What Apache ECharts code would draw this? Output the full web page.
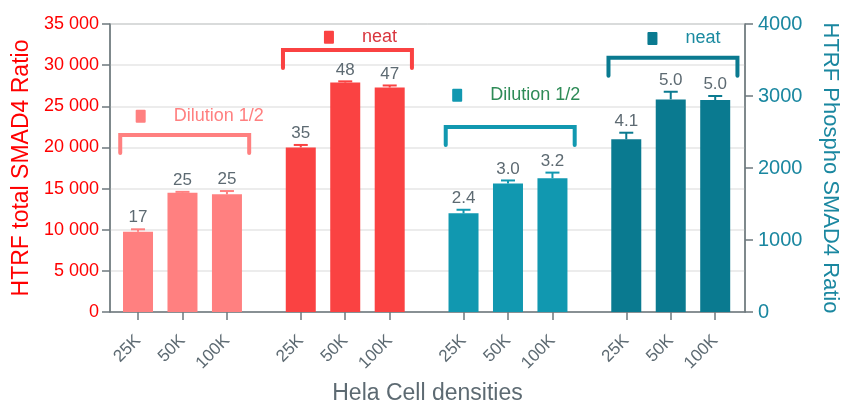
<!DOCTYPE html>
<html><head><meta charset="utf-8">
<script src="https://cdn.jsdelivr.net/npm/echarts@6/dist/echarts.min.js"></script>
<style>html,body{margin:0;padding:0;background:#fff}#c{width:843px;height:401px}</style>
</head><body><div id="c"></div>
<script>
// ---- data ----
const densities = ['25K', '50K', '100K'];
const groupNames = ['Dilution 1/2', 'neat', 'Dilution 1/2', 'neat'];
// HTRF total SMAD4 ratio (left axis)
const totalDilution = [9750, 14500, 14300];
const totalDilutionErr = [300, 100, 400];
const totalNeat = [20000, 27880, 27280];
const totalNeatErr = [300, 150, 250];
// HTRF Phospho SMAD4 ratio (right axis)
const phosphoDilution = [1370, 1785, 1858];
const phosphoDilutionErr = [50, 42, 78];
const phosphoNeat = [2398, 2953, 2944];
const phosphoNeatErr = [92, 106, 56];
// labels printed above bars
const labelsTotalDilution = ['17', '25', '25'];
const labelsTotalNeat = ['35', '48', '47'];
const labelsPhosphoDilution = ['2.4', '3.0', '3.2'];
const labelsPhosphoNeat = ['4.1', '5.0', '5.0'];
// bracket annotations: level of horizontal bar, level of legend label (axis units)
const bracketTotal = [[21500, 23800], [31850, 33400]];
const bracketPhospho = [[2570, 3010], [3530, 3800]];

// ---- style/layout ----
const FONT = 'Liberation Sans, Arial, sans-serif';
const GREY = '#5d6a72';
const AXIS = '#6e787d';
const colors = ['#ff8080', '#fa4242', '#1198b0', '#0a7a90'];
const textColors = ['#ff8080', '#d9363e', '#2e8b57', '#1a8aa0'];
const labelShift = [2, 0, -7, -2];
const GROUP_STEP = 3.66;
const xPos = (g, i) => g * GROUP_STEP + i;
const allX = [];
const allLabels = [];
for (let g = 0; g < 4; g++) for (let i = 0; i < 3; i++) { allX.push(xPos(g, i)); allLabels.push(densities[i]); }
const valueLabels = [labelsTotalDilution, labelsTotalNeat, labelsPhosphoDilution, labelsPhosphoNeat];

function barData(g, vals) { return vals.map((v, i) => [xPos(g, i), v]); }
function errData(g, vals, errs) { return vals.map((v, i) => [xPos(g, i), v, v + errs[i], g, i]); }

const measureCtx = document.createElement('canvas').getContext('2d');
measureCtx.font = '18px ' + FONT;

function renderErr(params, api) {
  const x = api.value(0);
  const p0 = api.coord([x, api.value(1)]);
  const p1 = api.coord([x, api.value(2)]);
  const g = api.value(3);
  const i = api.value(4);
  const c = colors[g];
  return {
    type: 'group', children: [
      { type: 'line', shape: { x1: p0[0], y1: p0[1], x2: p1[0], y2: p1[1] }, style: { stroke: c, lineWidth: 2 } },
      { type: 'line', shape: { x1: p1[0] - 7, y1: p1[1], x2: p1[0] + 7, y2: p1[1] }, style: { stroke: c, lineWidth: 2 } },
      { type: 'text', x: p1[0], y: p1[1] - 3, style: { text: valueLabels[g][i], fill: GREY, font: '17px ' + FONT, textAlign: 'center', textVerticalAlign: 'bottom' } }
    ]
  };
}

function renderBracket(params, api) {
  const g = api.value(0);
  const pA = api.coord([xPos(g, 0) - 0.4, api.value(1)]);
  const pB = api.coord([xPos(g, 2) + 0.5, api.value(1)]);
  const pL = api.coord([xPos(g, 1), api.value(2)]);
  const c = colors[g];
  const leg = 18;
  const cx = (pA[0] + pB[0]) / 2 + 32 + labelShift[g];
  const name = groupNames[g];
  const w = measureCtx.measureText(name).width;
  const mx = cx - w / 2 - 33;
  return {
    type: 'group', children: [
      { type: 'polyline', shape: { points: [[pA[0], pA[1] + leg], [pA[0], pA[1]], [pB[0], pB[1]], [pB[0], pB[1] + leg]] },
        style: { stroke: c, lineWidth: 4, fill: null, lineCap: 'round', lineJoin: 'miter' } },
      { type: 'rect', shape: { x: mx - 5, y: pL[1] - 6.5, width: 10, height: 13, r: 1 }, style: { fill: c } },
      { type: 'text', x: cx, y: pL[1], style: { text: name, fill: textColors[g], font: '18px ' + FONT, textAlign: 'center', textVerticalAlign: 'middle' } }
    ]
  };
}

const chart = echarts.init(document.getElementById('c'), null, { renderer: 'canvas' });
const barCommon = { type: 'bar', barWidth: 30, barGap: '-100%', silent: true, animation: false };
chart.setOption({
  animation: false,
  textStyle: { fontFamily: FONT },
  grid: { left: 110, right: 98, top: 24, bottom: 89, show: true, borderColor: AXIS, borderWidth: 1,
    containLabel: false, outerBoundsMode: 'none' },
  xAxis: {
    type: 'value', min: -0.63, max: 13.65,
    name: 'Hela Cell densities', nameLocation: 'middle', nameGap: 70,
    nameTextStyle: { color: GREY, fontSize: 23, fontFamily: FONT },
    axisLine: { show: true, onZero: false, lineStyle: { color: AXIS, width: 1.5 } },
    axisTick: { show: true, customValues: allX, length: 8, lineStyle: { color: AXIS, width: 1.5 } },
    axisLabel: {
      customValues: allX, rotate: 45, color: GREY, fontSize: 17, fontFamily: FONT, margin: 26,
      formatter: v => { let b = 0; allX.forEach((x, i) => { if (Math.abs(x - v) < Math.abs(allX[b] - v)) b = i; }); return allLabels[b]; }
    },
    splitLine: { show: false }
  },
  yAxis: [{
    type: 'value', min: 0, max: 35000, interval: 5000, position: 'left',
    name: 'HTRF total SMAD4 Ratio', nameLocation: 'middle', nameRotate: 90, nameGap: 74,
    nameTextStyle: { color: '#ff0000', fontSize: 23, fontFamily: FONT },
    axisLine: { show: true, onZero: false, lineStyle: { color: AXIS, width: 1.5 } },
    axisTick: { show: true, length: 8, lineStyle: { color: AXIS, width: 1.5 } },
    axisLabel: { color: '#ff0000', fontSize: 18, fontFamily: FONT, margin: 11,
      formatter: v => v === 0 ? '0' : String(v).replace(/\B(?=(\d{3})+(?!\d))/g, ' ') },
    splitLine: { show: true, lineStyle: { color: '#e6e6e6', width: 1.5 } }
  }, {
    type: 'value', min: 0, max: 4000, interval: 1000, position: 'right',
    name: 'HTRF Phospho SMAD4 Ratio', nameLocation: 'middle', nameRotate: -90, nameGap: 74,
    nameTextStyle: { color: '#1a87a0', fontSize: 22, fontFamily: FONT },
    axisLine: { show: true, onZero: false, lineStyle: { color: AXIS, width: 1.5 } },
    axisTick: { show: true, length: 8, lineStyle: { color: AXIS, width: 1.5 } },
    axisLabel: { color: '#1a87a0', fontSize: 20, fontFamily: FONT, margin: 13, formatter: v => String(v) },
    splitLine: { show: false }
  }],
  series: [
    Object.assign({}, barCommon, { yAxisIndex: 0, data: barData(0, totalDilution), itemStyle: { color: colors[0] } }),
    Object.assign({}, barCommon, { yAxisIndex: 0, data: barData(1, totalNeat), itemStyle: { color: colors[1] } }),
    Object.assign({}, barCommon, { yAxisIndex: 1, data: barData(2, phosphoDilution), itemStyle: { color: colors[2] } }),
    Object.assign({}, barCommon, { yAxisIndex: 1, data: barData(3, phosphoNeat), itemStyle: { color: colors[3] } }),
    { type: 'custom', yAxisIndex: 0, renderItem: renderErr, silent: true, z: 5,
      data: errData(0, totalDilution, totalDilutionErr).concat(errData(1, totalNeat, totalNeatErr)) },
    { type: 'custom', yAxisIndex: 1, renderItem: renderErr, silent: true, z: 5,
      data: errData(2, phosphoDilution, phosphoDilutionErr).concat(errData(3, phosphoNeat, phosphoNeatErr)) },
    { type: 'custom', yAxisIndex: 0, renderItem: renderBracket, silent: true, z: 5,
      data: bracketTotal.map((b, i) => [i, b[0], b[1]]) },
    { type: 'custom', yAxisIndex: 1, renderItem: renderBracket, silent: true, z: 5,
      data: bracketPhospho.map((b, i) => [i + 2, b[0], b[1]]) }
  ]
});
</script></body></html>
